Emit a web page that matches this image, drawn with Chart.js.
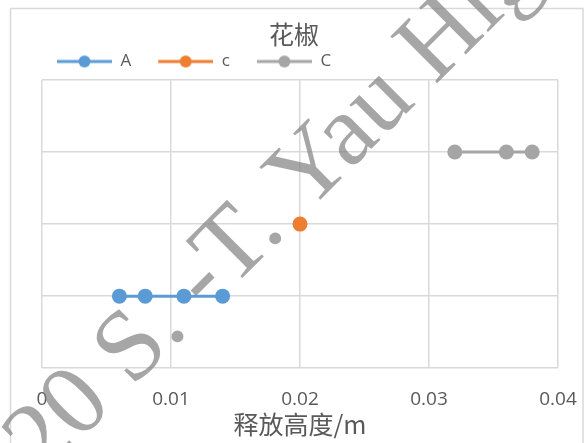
<!DOCTYPE html>
<html>
<head>
<meta charset="utf-8">
<script src="https://cdn.jsdelivr.net/npm/chart.js@4"></script>
<style>
  html, body { margin: 0; padding: 0; background: #ffffff; }
  #wrap { width: 587px; height: 443px; }
</style>
</head>
<body>
<div id="wrap"><canvas id="c" width="587" height="443"></canvas></div>
<script>
// Series: release height (x) against level (y)
const seriesNames = ['A', 'c', 'C'];
const xA = [0.006, 0.008, 0.011, 0.014];
const yA = [1, 1, 1, 1];
const xc = [0.02];
const yc = [2];
const xC = [0.032, 0.036, 0.038];
const yC = [3, 3, 3];
const xTickLabels = ['0', '0.01', '0.02', '0.03', '0.04'];
const chartTitle = '花椒';
const xAxisTitle = '释放高度/m';
const watermarkText = '2020 S. -T. Yau High School Science Award';

const colors = ['#5B9BD5', '#ED7D31', '#A5A5A5'];
const textColor = '#595959';
const gridColor = '#d9d9d9';

function toPoints(xs, ys) {
  return xs.map((x, i) => ({ x: x, y: ys[i] }));
}

// Legend icon: a short line with a dot in its middle
function legendIcon(color) {
  const cv = document.createElement('canvas');
  cv.width = 76; cv.height = 16;
  const g = cv.getContext('2d');
  g.strokeStyle = color; g.lineWidth = 3;
  g.beginPath(); g.moveTo(21, 8); g.lineTo(76, 8); g.stroke();
  g.fillStyle = color;
  g.beginPath(); g.arc(48.5, 8, 6, 0, Math.PI * 2); g.fill();
  return cv;
}
const icons = colors.map(legendIcon);

const framePlugin = {
  id: 'frame',
  beforeDraw(chart) {
    const ctx = chart.ctx;
    ctx.save();
    ctx.fillStyle = '#ffffff';
    ctx.fillRect(0, 0, chart.width, chart.height);
    ctx.strokeStyle = gridColor;
    ctx.lineWidth = 1.5;
    ctx.strokeRect(10.5, 8.5, 572.5, 460);
    ctx.restore();
  }
};

// Diagonal grey banner text laid across the chart
const watermarkPlugin = {
  id: 'watermark',
  beforeDatasetsDraw(chart) {
    const ctx = chart.ctx;
    ctx.save();
    ctx.translate(-28.7, 548.8);
    ctx.rotate(-Math.PI / 4);
    ctx.font = '101px "Liberation Serif", "Times New Roman", serif';
    ctx.fillStyle = 'rgba(128,128,128,0.7)';
    ctx.textBaseline = 'alphabetic';
    ctx.fillText(watermarkText, 0, 0);
    ctx.restore();
  }
};

const makeSet = (i, pts) => ({
  label: seriesNames[i],
  data: pts,
  showLine: true,
  borderColor: colors[i],
  backgroundColor: colors[i],
  borderWidth: 3,
  pointRadius: 7.5,
  pointHoverRadius: 7.5,
  pointBorderWidth: 0,
  pointBackgroundColor: colors[i]
});

new Chart(document.getElementById('c'), {
  type: 'scatter',
  data: {
    datasets: [
      makeSet(0, toPoints(xA, yA)),
      makeSet(1, toPoints(xc, yc)),
      makeSet(2, toPoints(xC, yC))
    ]
  },
  options: {
    responsive: false,
    animation: false,
    devicePixelRatio: 1,
    layout: { padding: { left: 30, right: 29, top: 0, bottom: 0 } },
    plugins: {
      tooltip: { enabled: false },
      title: {
        display: true,
        text: chartTitle,
        color: textColor,
        font: { family: '"Noto Sans CJK SC", sans-serif', size: 25, weight: 'normal', lineHeight: 1 },
        padding: { top: 22, bottom: 0 }
      },
      legend: {
        display: true,
        position: 'top',
        align: 'start',
        labels: {
          usePointStyle: true,
          pointStyleWidth: 76,
          padding: 6,
          color: textColor,
          font: { family: '"Open Sans", sans-serif', size: 17 },
          generateLabels(chart) {
            const items = Chart.defaults.plugins.legend.labels.generateLabels(chart);
            items.forEach((it, i) => { it.pointStyle = icons[i]; });
            return items;
          }
        }
      }
    },
    scales: {
      x: {
        type: 'linear',
        min: 0,
        max: 0.04,
        ticks: {
          stepSize: 0.01,
          color: textColor,
          padding: 0,
          maxRotation: 0,
          font: { family: '"Open Sans", sans-serif', size: 19 },
          callback: (v, i) => xTickLabels[i]
        },
        grid: {
          color: gridColor,
          lineWidth: 1.5,
          drawTicks: true,
          tickLength: 20,
          tickColor: 'rgba(0,0,0,0)'
        },
        border: { display: false },
        title: {
          display: true,
          text: xAxisTitle,
          color: textColor,
          font: { family: '"Noto Sans CJK SC", sans-serif', size: 25, lineHeight: 1 },
          padding: { top: 1, bottom: 6 }
        }
      },
      y: {
        type: 'linear',
        min: 0,
        max: 4,
        ticks: { stepSize: 1, display: false },
        grid: { color: gridColor, lineWidth: 1.5, drawTicks: false },
        border: { display: false },
        afterFit(s) { s.width = 12; }
      }
    }
  },
  plugins: [framePlugin, watermarkPlugin]
});
</script>
</body>
</html>
